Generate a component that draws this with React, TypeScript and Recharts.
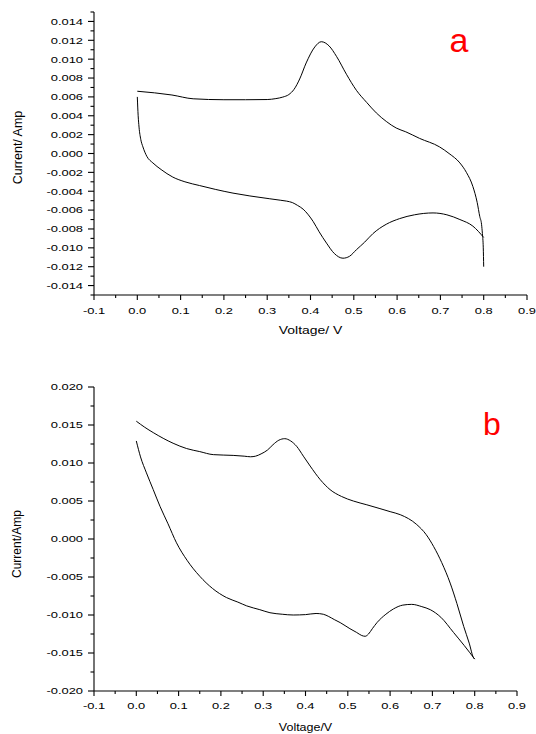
import React from 'react';
import { LineChart, Line, XAxis, YAxis } from 'recharts';

// ---------- axis ticks ----------
const voltageMajorTicks = [-0.1, 0, 0.1, 0.2, 0.3, 0.4, 0.5, 0.6, 0.7, 0.8, 0.9];
const voltageTickLabels = ['-0.1', '0.0', '0.1', '0.2', '0.3', '0.4', '0.5', '0.6', '0.7', '0.8', '0.9'];
const voltageMinorTicks = [-0.05, 0.05, 0.15, 0.25, 0.35, 0.45, 0.55, 0.65, 0.75, 0.85];

const aCurrentMajorTicks = [-0.014, -0.012, -0.01, -0.008, -0.006, -0.004, -0.002, 0, 0.002, 0.004, 0.006, 0.008, 0.01, 0.012, 0.014];
const aCurrentTickLabels = ['-0.014', '-0.012', '-0.010', '-0.008', '-0.006', '-0.004', '-0.002', '0.000', '0.002', '0.004', '0.006', '0.008', '0.010', '0.012', '0.014'];
const aCurrentMinorTicks = [-0.015, -0.013, -0.011, -0.009, -0.007, -0.005, -0.003, -0.001, 0.001, 0.003, 0.005, 0.007, 0.009, 0.011, 0.013, 0.015];

const bCurrentMajorTicks = [-0.02, -0.015, -0.01, -0.005, 0, 0.005, 0.01, 0.015, 0.02];
const bCurrentTickLabels = ['-0.020', '-0.015', '-0.010', '-0.005', '0.000', '0.005', '0.010', '0.015', '0.020'];
const bCurrentMinorTicks = [-0.0175, -0.0125, -0.0075, -0.0025, 0.0025, 0.0075, 0.0125, 0.0175];

// ---------- chart a data ----------
const aLowerVoltage = [0.0, 0.002, 0.004, 0.008, 0.013, 0.022, 0.036, 0.055, 0.082, 0.11, 0.144, 0.18, 0.221, 0.26, 0.306, 0.33, 0.345, 0.358, 0.37, 0.383, 0.395, 0.406, 0.42, 0.437, 0.455, 0.475, 0.49, 0.506, 0.525, 0.544, 0.575, 0.606, 0.64, 0.683, 0.715, 0.745, 0.775, 0.8];
const aLowerCurrent = [0.006, 0.004, 0.0028, 0.0015, 0.0007, -0.0003, -0.001, -0.0017, -0.0025, -0.003, -0.0034, -0.0038, -0.0042, -0.0045, -0.0048, -0.00495, -0.00505, -0.0052, -0.0055, -0.0059, -0.0065, -0.0072, -0.0083, -0.0095, -0.0106, -0.0111, -0.0109, -0.0102, -0.0094, -0.0085, -0.0075, -0.0069, -0.0065, -0.0063, -0.0065, -0.007, -0.0077, -0.0089];

const aUpperVoltage = [0.8, 0.799, 0.797, 0.795, 0.791, 0.785, 0.775, 0.76, 0.745, 0.72, 0.698, 0.652, 0.62, 0.598, 0.575, 0.552, 0.53, 0.506, 0.483, 0.46, 0.443, 0.425, 0.41, 0.39, 0.375, 0.362, 0.35, 0.336, 0.32, 0.3, 0.25, 0.2, 0.129, 0.08, 0.0];
const aUpperCurrent = [-0.012, -0.01, -0.0085, -0.0075, -0.0067, -0.0052, -0.0035, -0.002, -0.001, 0.0, 0.0007, 0.0016, 0.0023, 0.0027, 0.0034, 0.0043, 0.0054, 0.0067, 0.0084, 0.0103, 0.0114, 0.01185, 0.0113, 0.0096, 0.0079, 0.0068, 0.00625, 0.00598, 0.00582, 0.00572, 0.0057, 0.0057, 0.0058, 0.0062, 0.0066];

// ---------- chart b data ----------
const bUpperVoltage = [0.0, 0.02, 0.04, 0.087, 0.119, 0.15, 0.182, 0.229, 0.255, 0.27, 0.282, 0.295, 0.31, 0.323, 0.337, 0.351, 0.365, 0.379, 0.395, 0.411, 0.435, 0.458, 0.485, 0.513, 0.545, 0.576, 0.6, 0.624, 0.663, 0.685, 0.703, 0.722, 0.742, 0.758, 0.774, 0.787, 0.797, 0.8];
const bUpperCurrent = [0.0155, 0.0147, 0.014, 0.0126, 0.0119, 0.0115, 0.0111, 0.011, 0.0109, 0.01082, 0.0109, 0.0112, 0.0117, 0.0124, 0.0130, 0.0132, 0.0129, 0.0122, 0.0109, 0.0096, 0.0078, 0.0065, 0.0056, 0.005, 0.0045, 0.004, 0.0036, 0.0032, 0.0019, 0.0006, -0.001, -0.0031, -0.0058, -0.0085, -0.0115, -0.0137, -0.0156, -0.0158];

const bLowerVoltage = [0.0, 0.01, 0.024, 0.04, 0.056, 0.075, 0.095, 0.12, 0.15, 0.18, 0.213, 0.24, 0.261, 0.292, 0.316, 0.345, 0.371, 0.4, 0.425, 0.442, 0.455, 0.468, 0.482, 0.505, 0.521, 0.533, 0.541, 0.549, 0.558, 0.569, 0.59, 0.608, 0.63, 0.651, 0.675, 0.695, 0.72, 0.75, 0.775, 0.8];
const bLowerCurrent = [0.0129, 0.0108, 0.0087, 0.0065, 0.0043, 0.002, -0.0005, -0.0028, -0.0049, -0.0065, -0.0077, -0.0083, -0.0088, -0.0093, -0.0097, -0.0099, -0.01, -0.00995, -0.0098, -0.0099, -0.0102, -0.0106, -0.011, -0.0118, -0.0123, -0.0127, -0.0128, -0.0125, -0.0118, -0.011, -0.0099, -0.0092, -0.0087, -0.0086, -0.0089, -0.0093, -0.0103, -0.0123, -0.014, -0.0158];

const zip = (xs: number[], ys: number[]) => xs.map((v, k) => ({ v, i: ys[k] }));

const FONT = '"Liberation Sans", Arial, Helvetica, sans-serif';

const findIdx = (arr: number[], v: number) => arr.findIndex((m) => Math.abs(m - v) < 1e-9);

const makeYTick = (majors: number[], labels: string[]) => (props: any) => {
  const { x, y, payload } = props;
  const idx = findIdx(majors, payload.value);
  const len = idx >= 0 ? 6 : 3.5;
  return (
    <g>
      <line x1={x - len} x2={x} y1={y} y2={y} stroke="#000" strokeWidth={1.1} />
      {idx >= 0 && (
        <text
          transform={`translate(${x - 11},${y}) scale(1.33,1)`}
          textAnchor="end"
          dy="0.35em"
          fontSize={9.7}
          fontFamily={FONT}
          fill="#000"
        >
          {labels[idx]}
        </text>
      )}
    </g>
  );
};

const makeXTick = (majors: number[], labels: string[], labelGap: number) => (props: any) => {
  const { x, y, payload } = props;
  const idx = findIdx(majors, payload.value);
  const len = idx >= 0 ? 5 : 3;
  return (
    <g>
      <line x1={x} x2={x} y1={y} y2={y + len} stroke="#000" strokeWidth={1.1} />
      {idx >= 0 && (
        <text
          transform={`translate(${x},${y + labelGap}) scale(1.33,1)`}
          textAnchor="middle"
          fontSize={9.7}
          fontFamily={FONT}
          fill="#000"
        >
          {labels[idx]}
        </text>
      )}
    </g>
  );
};

const voltageTicks = [...voltageMajorTicks, ...voltageMinorTicks].sort((p, q) => p - q);
const aTicks = [...aCurrentMajorTicks, ...aCurrentMinorTicks].sort((p, q) => p - q);
const bTicks = [...bCurrentMajorTicks, ...bCurrentMinorTicks].sort((p, q) => p - q);

const axisLine = { stroke: '#000', strokeWidth: 1.1 };

export default function App() {
  return (
    <div style={{ position: 'absolute', left: 0, top: 0, width: 536, height: 734, background: '#fff' }}>
      <div style={{ position: 'absolute', left: 0, top: 0 }}>
        <LineChart width={536} height={345} margin={{ top: 12, right: 9, bottom: 0, left: 0 }}>
          <XAxis
            type="number"
            dataKey="v"
            domain={[-0.1, 0.9]}
            ticks={voltageTicks}
            interval={0}
            allowDataOverflow
            height={50}
            tickSize={0}
            tickMargin={0}
            tickLine={false}
            axisLine={axisLine}
            tick={makeXTick(voltageMajorTicks, voltageTickLabels, 19)}
          />
          <YAxis
            type="number"
            dataKey="i"
            domain={[-0.015, 0.015]}
            ticks={aTicks}
            interval={0}
            allowDataOverflow
            width={94}
            tickSize={0}
            tickMargin={0}
            tickLine={false}
            axisLine={axisLine}
            tick={makeYTick(aCurrentMajorTicks, aCurrentTickLabels)}
          />
          <Line data={zip(aLowerVoltage, aLowerCurrent)} dataKey="i" type="monotone" stroke="#000" strokeWidth={1} dot={false} isAnimationActive={false} />
          <Line data={zip(aUpperVoltage, aUpperCurrent)} dataKey="i" type="monotone" stroke="#000" strokeWidth={1} dot={false} isAnimationActive={false} />
        </LineChart>
      </div>
      <div style={{ position: 'absolute', left: 0, top: 350 }}>
        <LineChart width={536} height={384} margin={{ top: 37, right: 19, bottom: 0, left: 0 }}>
          <XAxis
            type="number"
            dataKey="v"
            domain={[-0.1, 0.9]}
            ticks={voltageTicks}
            interval={0}
            allowDataOverflow
            height={43}
            tickSize={0}
            tickMargin={0}
            tickLine={false}
            axisLine={axisLine}
            tick={makeXTick(voltageMajorTicks, voltageTickLabels, 18)}
          />
          <YAxis
            type="number"
            dataKey="i"
            domain={[-0.02, 0.02]}
            ticks={bTicks}
            interval={0}
            allowDataOverflow
            width={94}
            tickSize={0}
            tickMargin={0}
            tickLine={false}
            axisLine={axisLine}
            tick={makeYTick(bCurrentMajorTicks, bCurrentTickLabels)}
          />
          <Line data={zip(bUpperVoltage, bUpperCurrent)} dataKey="i" type="monotone" stroke="#000" strokeWidth={1} dot={false} isAnimationActive={false} />
          <Line data={zip(bLowerVoltage, bLowerCurrent)} dataKey="i" type="monotone" stroke="#000" strokeWidth={1} dot={false} isAnimationActive={false} />
        </LineChart>
      </div>
      <svg width={536} height={734} style={{ position: 'absolute', left: 0, top: 0, pointerEvents: 'none' }}>
        <text x={459} y={51.5} textAnchor="middle" fontSize={34} fontFamily={FONT} fill="#ff0000">a</text>
        <text x={492} y={435} textAnchor="middle" fontSize={32} fontFamily={FONT} fill="#ff0000">b</text>
        <text transform="translate(310.5,333.5) scale(1.2,1)" textAnchor="middle" fontSize={11.6} fontFamily={FONT} fill="#000">Voltage/ V</text>
        <text transform="translate(305.5,730.5) scale(1.2,1)" textAnchor="middle" fontSize={10.4} fontFamily={FONT} fill="#000">Voltage/V</text>
        <text transform="translate(21.5,147.5) rotate(-90)" textAnchor="middle" fontSize={12.5} fontFamily={FONT} fill="#000">Current/ Amp</text>
        <text transform="translate(21,544) rotate(-90)" textAnchor="middle" fontSize={12} fontFamily={FONT} fill="#000">Current/Amp</text>
      </svg>
    </div>
  );
}
